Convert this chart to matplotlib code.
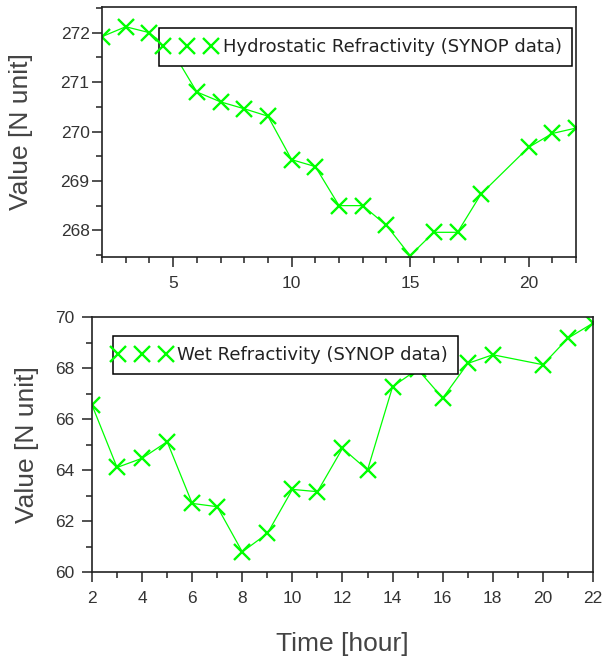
import matplotlib
matplotlib.use('Agg')
import matplotlib.pyplot as plt
from matplotlib.ticker import MultipleLocator
from matplotlib.legend_handler import HandlerLine2D

# hours of the day
hours = [2, 3, 4, 5, 6, 7, 8, 9, 10, 11, 12, 13, 14, 15, 16, 17, 18, 20, 21, 22]

# hydrostatic refractivity [N unit]
hydro = [271.92, 272.12, 272.00, 271.60, 270.80, 270.60, 270.46, 270.31, 269.43, 269.29,
         268.50, 268.50, 268.10, 267.49, 267.96, 267.96, 268.74, 269.68, 269.96, 270.07]

# wet refractivity [N unit]
wet = [66.55, 64.10, 64.46, 65.11, 62.69, 62.56, 60.79, 61.51, 63.24, 63.15,
       64.85, 64.00, 67.27, 67.95, 66.82, 68.18, 68.52, 68.13, 69.17, 69.76]

hydro_label = 'Hydrostatic Refractivity (SYNOP data)'
wet_label = 'Wet Refractivity (SYNOP data)'

green = '#00ff00'
dark = '#222222'

fig = plt.figure(figsize=(6.04, 6.58), dpi=100)
ax1 = fig.add_axes([0.1689, 0.6094, 0.7848, 0.380])
ax2 = fig.add_axes([0.1523, 0.1307, 0.8295, 0.3875])


def style_axes(ax, ypad):
    for s in ax.spines.values():
        s.set_linewidth(1.2)
        s.set_color(dark)
    ax.tick_params(which='major', direction='out', length=7.5, width=1.1,
                   colors=dark, labelsize=12.5, top=False, right=False)
    ax.tick_params(which='minor', direction='out', length=4, width=1.1,
                   colors=dark, top=False, right=False)
    ax.tick_params(axis='x', which='major', pad=6)
    ax.tick_params(axis='y', which='major', pad=ypad)
    for t in ax.get_xticklabels() + ax.get_yticklabels():
        t.set_family('Liberation Sans')
        t.set_color('#333333')
    ax.set_ylabel('Value [N unit]', family='Liberation Sans', fontsize=19,
                  color='#444444')


def add_legend(ax, line, label, anchor):
    leg = ax.legend([line], [label], loc='upper left', bbox_to_anchor=anchor,
                    borderaxespad=0, fontsize=13, borderpad=0.55,
                    handlelength=2.05, handletextpad=0.94, fancybox=False,
                    framealpha=1, edgecolor='black',
                    handler_map={line: HandlerLine2D(numpoints=3, marker_pad=-0.3)})
    leg.get_frame().set_linewidth(1.1)
    for h in leg.legend_handles:
        h.set_linestyle('none')
    for t in leg.get_texts():
        t.set_color(dark)
    return leg


# top: hydrostatic
l1, = ax1.plot(hours, hydro, color=green, lw=0.9, marker='x', ms=12, mew=1.7)
ax1.set_xlim(2, 22)
ax1.set_ylim(267.46, 272.52)
ax1.xaxis.set_major_locator(MultipleLocator(5))
ax1.xaxis.set_minor_locator(MultipleLocator(1))
ax1.yaxis.set_major_locator(MultipleLocator(1))
ax1.yaxis.set_minor_locator(MultipleLocator(0.5))
style_axes(ax1, 1.5)
ax1.yaxis.set_label_coords(-0.146, 0.5)
add_legend(ax1, l1, hydro_label, (0.120, 0.916))

# bottom: wet
l2, = ax2.plot(hours, wet, color=green, lw=0.9, marker='x', ms=12, mew=1.7)
ax2.set_xlim(2, 22)
ax2.set_ylim(60, 70)
ax2.xaxis.set_major_locator(MultipleLocator(2))
ax2.xaxis.set_minor_locator(MultipleLocator(1))
ax2.yaxis.set_major_locator(MultipleLocator(2))
ax2.yaxis.set_minor_locator(MultipleLocator(1))
style_axes(ax2, 5)
ax2.yaxis.set_label_coords(-0.106, 0.5)
ax2.set_xlabel('Time [hour]', family='Liberation Sans', fontsize=19, color='#444444')
ax2.xaxis.set_label_coords(0.5, -0.235)
add_legend(ax2, l2, wet_label, (0.0425, 0.925))

fig.savefig('out.png', dpi=100)
